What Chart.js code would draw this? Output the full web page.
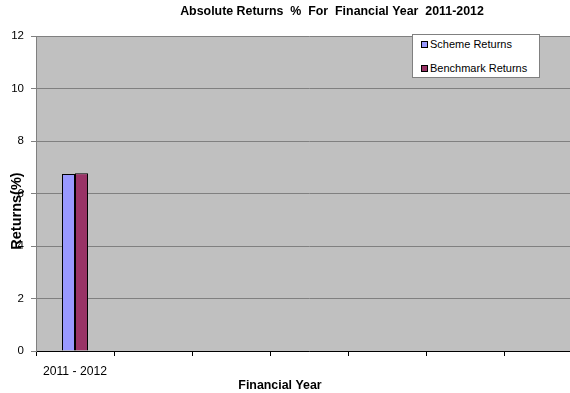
<!DOCTYPE html>
<html>
<head>
<meta charset="utf-8">
<script src="https://cdn.jsdelivr.net/npm/chart.js@4.4.0/dist/chart.umd.min.js"></script>
<style>
  html, body { margin: 0; padding: 0; background: #fff; overflow: hidden; }
  #wrap { position: relative; width: 570px; height: 393px; overflow: hidden; }
  #box { position: absolute; left: 0; top: 0; width: 600px; height: 393px; }
  #legend {
    position: absolute; left: 412px; top: 34px; width: 126px; height: 42px;
    background: #fff; border: 1px solid #808080;
    font: 11px "Liberation Sans", Arial, sans-serif; color: #000;
  }
  #legend div { position: absolute; left: 8px; white-space: nowrap; line-height: 12px; }
  #legend span { display: inline-block; width: 5px; height: 5px; border: 1px solid #000; margin-right: 2px; vertical-align: 0px; }
</style>
</head>
<body>
<div id="wrap">
  <div id="box"><canvas id="c" width="600" height="393"></canvas></div>
  <div id="legend"></div>
</div>
<script>
// data
const categories = ['2011 - 2012', '', '', '', '', '', ''];
const schemeReturns = [6.74, null, null, null, null, null, null];
const benchmarkReturns = [6.77, null, null, null, null, null, null];
const seriesNames = ['Scheme Returns', 'Benchmark Returns'];
const seriesColors = ['#9999FF', '#993366'];
const chartTitle = 'Absolute Returns  %  For  Financial Year  2011-2012';
const xTitle = 'Financial Year';
const yTitle = 'Returns(%)';

const FONT = '"Liberation Sans", Arial, sans-serif';

const extras = {
  id: 'extras',
  beforeDraw(chart) {
    const a = chart.chartArea, g = chart.ctx;
    g.save();
    g.fillStyle = '#C0C0C0';
    g.fillRect(a.left, a.top, a.right - a.left, a.bottom - a.top);
    g.restore();
  },
  afterDraw(chart) {
    const a = chart.chartArea, g = chart.ctx;
    g.save();
    g.fillStyle = '#000';
    g.textAlign = 'center';
    g.textBaseline = 'middle';
    g.font = 'bold 12.4px ' + FONT;
    g.fillText(chartTitle, 332, 12);
    g.font = 'bold 12.4px ' + FONT;
    g.fillText(xTitle, a.left + 244, 386);
    g.translate(17, 211);
    g.rotate(-Math.PI / 2);
    g.font = 'bold 14.5px ' + FONT;
    g.fillText(yTitle, 0, 0);
    g.restore();
  }
};

const chart = new Chart(document.getElementById('c'), {
  type: 'bar',
  data: {
    labels: categories,
    datasets: [
      { label: seriesNames[0], data: schemeReturns, backgroundColor: seriesColors[0] },
      { label: seriesNames[1], data: benchmarkReturns, backgroundColor: seriesColors[1] }
    ]
  },
  options: {
    responsive: false,
    animation: false,
    layout: { padding: { top: 36, right: 18, left: 0, bottom: 0 } },
    datasets: {
      bar: { categoryPercentage: 26 / 78, barPercentage: 1, borderColor: '#000', borderWidth: 1 }
    },
    plugins: { legend: { display: false }, title: { display: false }, tooltip: { enabled: false } },
    scales: {
      x: {
        afterFit(s) { s.height = 42; },
        grid: { drawOnChartArea: false, drawTicks: true, tickLength: 5, color: '#000', offset: true },
        border: { color: '#000', width: 1 },
        ticks: { color: '#000', font: { family: FONT, size: 12.2 }, padding: 8, maxRotation: 0, autoSkip: false }
      },
      y: {
        min: 0, max: 12,
        afterFit(s) { s.width = 36; },
        grid: { color: '#808080', tickLength: 5, drawTicks: true },
        border: { color: '#808080', width: 1 },
        ticks: { stepSize: 2, color: '#000', font: { family: FONT, size: 11.5 }, padding: 7 }
      }
    }
  },
  plugins: [extras]
});

// legend built from the series
const lg = document.getElementById('legend');
seriesNames.forEach((n, i) => {
  const d = document.createElement('div');
  d.style.top = (3 + i * 24) + 'px';
  d.innerHTML = '<span style="background:' + seriesColors[i] + '"></span>' + n;
  lg.appendChild(d);
});
</script>
</body>
</html>
